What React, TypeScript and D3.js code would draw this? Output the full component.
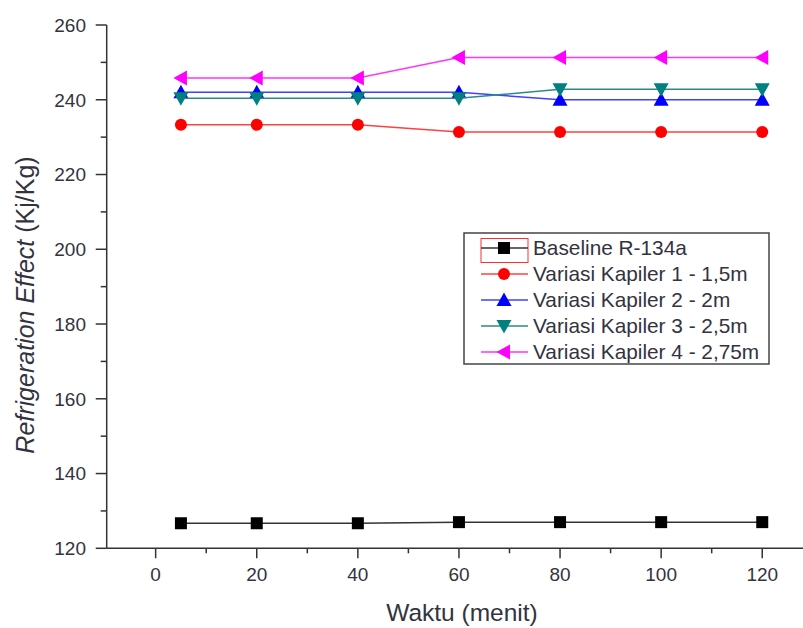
import React from "react";
import * as d3 from "d3";

const xValues = [5, 20, 40, 60, 80, 100, 120];
const baseline = [126.7, 126.7, 126.7, 127.0, 127.0, 127.0, 127.0];
const kapiler1 = [233.3, 233.3, 233.3, 231.4, 231.4, 231.4, 231.4];
const kapiler2 = [242.0, 242.0, 242.0, 242.0, 240.0, 240.0, 240.0];
const kapiler3 = [240.4, 240.4, 240.4, 240.4, 242.8, 242.8, 242.8];
const kapiler4 = [245.8, 245.8, 245.8, 251.3, 251.3, 251.3, 251.3];
const seriesNames = [
  "Baseline R-134a",
  "Variasi Kapiler 1 - 1,5m",
  "Variasi Kapiler 2 - 2m",
  "Variasi Kapiler 3 - 2,5m",
  "Variasi Kapiler 4 - 2,75m",
];
const xTicks = [0, 20, 40, 60, 80, 100, 120];
const yTicks = [120, 140, 160, 180, 200, 220, 240, 260];

const colors = ["#000000", "#ff0000", "#0000ff", "#008080", "#ff00ff"];
const lineColors = ["#333333", "#ff4040", "#4040ff", "#2a8a8a", "#ff33ff"];
const shapes = ["square", "circle", "up", "down", "left"];

function Marker({ shape, x, y, color }: { shape: string; x: number; y: number; color: string }) {
  const s = 6;
  if (shape === "square") return <rect x={x - s} y={y - s} width={2 * s} height={2 * s} fill={color} />;
  if (shape === "circle") return <circle cx={x} cy={y} r={6} fill={color} />;
  const t = 7.5;
  let pts = "";
  if (shape === "up") pts = `${x},${y - t} ${x + t},${y + t * 0.8} ${x - t},${y + t * 0.8}`;
  if (shape === "down") pts = `${x},${y + t} ${x + t},${y - t * 0.8} ${x - t},${y - t * 0.8}`;
  if (shape === "left") pts = `${x - t},${y} ${x + t * 0.8},${y - t} ${x + t * 0.8},${y + t}`;
  return <polygon points={pts} fill={color} />;
}

export default function App() {
  const W = 803, H = 628;
  const x = d3.scaleLinear().domain([-10, 130]).range([105.1, 812.8]);
  const y = d3.scaleLinear().domain([120, 260]).range([548.3, 25]);
  const data = [baseline, kapiler1, kapiler2, kapiler3, kapiler4];
  const line = d3.line<number>().x((_, i) => x(xValues[i])).y((d) => y(d));
  const minorX = d3.range(-10, 131, 10).filter((v) => !xTicks.includes(v) && v > -10);
  const minorY = d3.range(130, 260, 20);
  const textColor = "#333340";
  const font = "'Liberation Sans', Arial, sans-serif";
  const axisX0 = x(-10) + 1.6;

  const legX = 464, legY = 233, legW = 305, legH = 131;
  const rowY = (i: number) => 248 + i * 26;

  return (
    <svg width={W} height={H} style={{ position: "absolute", left: 0, top: 0, background: "#fff" }} fontFamily={font}>
      {data.map((d, si) => (
        <g key={si}>
          <path d={line(d) || ""} fill="none" stroke={lineColors[si]} strokeWidth={1.5} />
          {d.map((v, i) => (
            <Marker key={i} shape={shapes[si]} x={x(xValues[i])} y={y(v)} color={colors[si]} />
          ))}
        </g>
      ))}
      {/* axes */}
      <line x1={axisX0} x2={axisX0} y1={y(260)} y2={y(120)} stroke="#333" strokeWidth={1.5} />
      <line x1={axisX0} x2={W} y1={y(120)} y2={y(120)} stroke="#333" strokeWidth={1.5} />
      {yTicks.map((t) => (
        <g key={t}>
          <line x1={axisX0 - 11} x2={axisX0} y1={y(t)} y2={y(t)} stroke="#333" strokeWidth={1.5} />
          <text x={86} y={y(t)} dy="0.36em" textAnchor="end" fontSize={19} fill={textColor}>{t}</text>
        </g>
      ))}
      {minorY.map((t) => (
        <line key={t} x1={axisX0 - 6} x2={axisX0} y1={y(t)} y2={y(t)} stroke="#333" strokeWidth={1.5} />
      ))}
      {xTicks.map((t) => (
        <g key={t}>
          <line x1={x(t)} x2={x(t)} y1={y(120)} y2={y(120) + 10} stroke="#333" strokeWidth={1.5} />
          <text x={x(t)} y={581} textAnchor="middle" fontSize={19} fill={textColor}>{t}</text>
        </g>
      ))}
      {minorX.map((t) => (
        <line key={t} x1={x(t)} x2={x(t)} y1={y(120)} y2={y(120) + 5} stroke="#333" strokeWidth={1.5} />
      ))}
      <text x={462} y={621} textAnchor="middle" fontSize={24.5} fill={textColor}>Waktu (menit)</text>
      <text transform="translate(34,305) rotate(-90)" textAnchor="middle" fontSize={25} fill={textColor}>
        <tspan fontStyle="italic">Refrigeration Effect</tspan>
        <tspan> (Kj/Kg)</tspan>
      </text>
      {/* legend */}
      <rect x={legX} y={legY} width={legW} height={legH} fill="#fff" stroke="#444" strokeWidth={1.5} />
      <rect x={481} y={238.5} width={47} height={24} fill="none" stroke="#ff3030" strokeWidth={1} />
      {seriesNames.map((n, i) => (
        <g key={n}>
          <line x1={481} x2={528} y1={rowY(i)} y2={rowY(i)} stroke={lineColors[i]} strokeWidth={1.5} />
          <Marker shape={shapes[i]} x={504} y={rowY(i)} color={colors[i]} />
          <text x={533} y={rowY(i)} dy="0.36em" fontSize={20.8} fill={textColor}>{n}</text>
        </g>
      ))}
    </svg>
  );
}
